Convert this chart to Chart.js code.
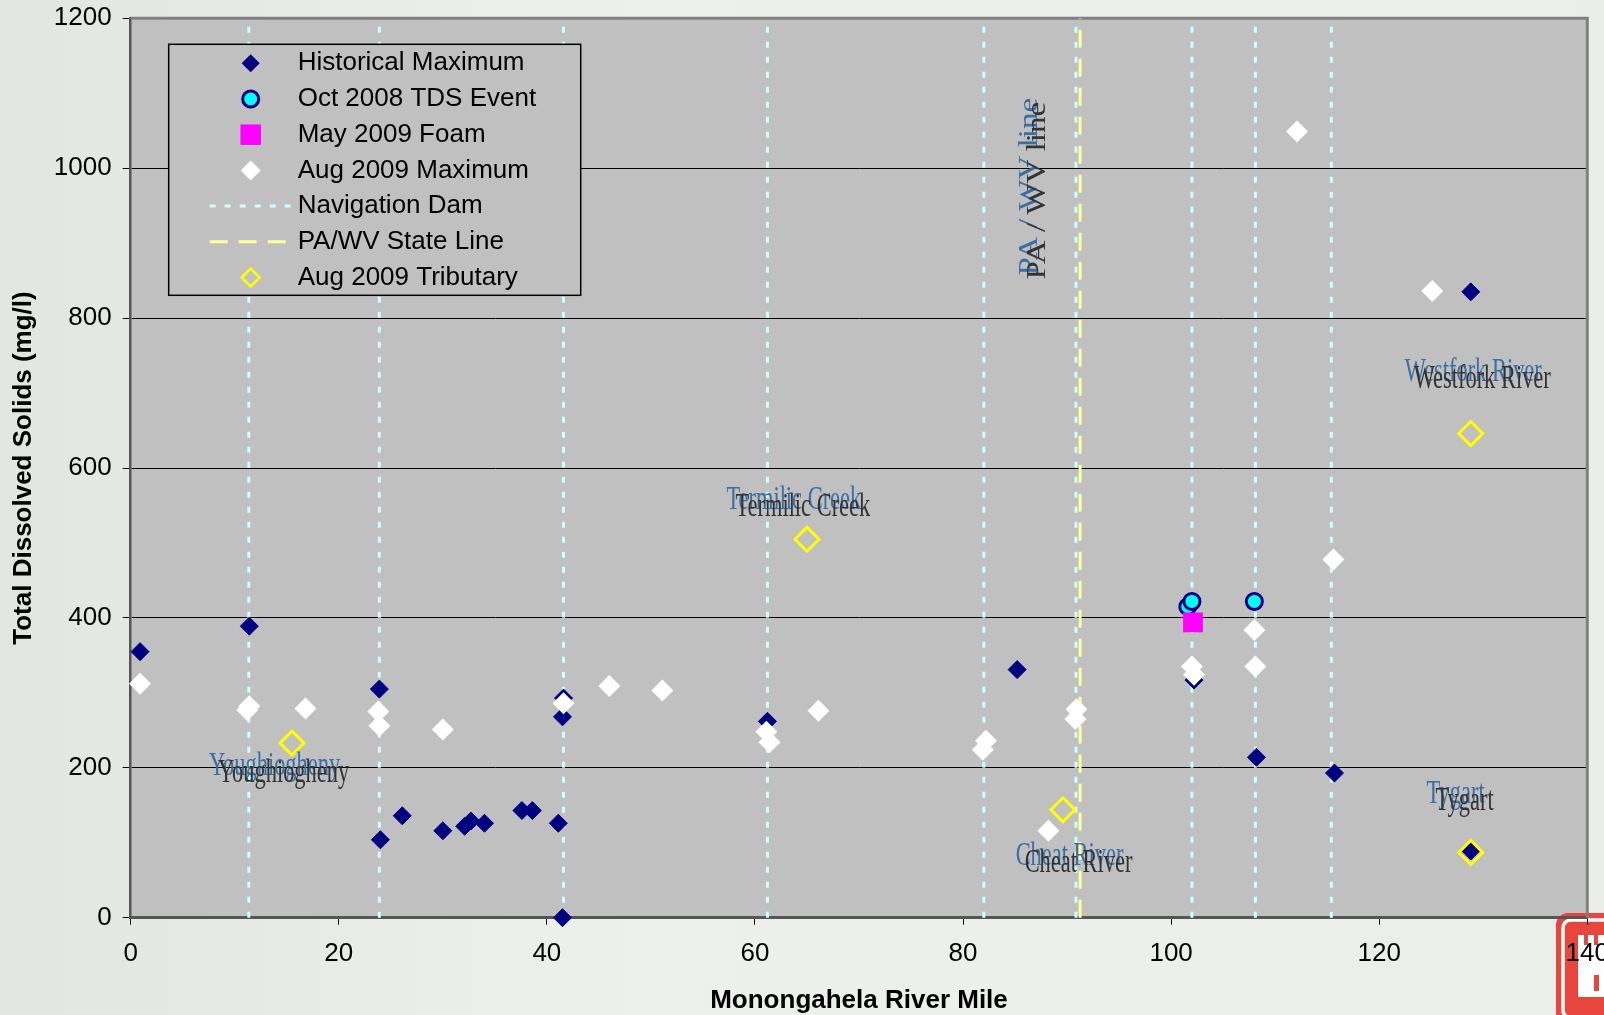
<!DOCTYPE html>
<html>
<head>
<meta charset="utf-8">
<title>Monongahela River TDS</title>
<script src="https://cdn.jsdelivr.net/npm/chart.js@4.4.0/dist/chart.umd.min.js"></script>
<style>
    html, body { margin: 0; padding: 0; background: #eceeec; }
    #wrap { width: 1604px; height: 1015px; }
</style>
</head>
<body>
<div id="wrap"><canvas id="tdsChart" width="1604" height="1015"></canvas></div>
<script>
// Axis ticks
const xTickValues = [0, 20, 40, 60, 80, 100, 120, 140];
const yTickValues = [0, 200, 400, 600, 800, 1000, 1200];

// Historical maximum TDS (river mile / mg/l)
const histMaxMile = [0.9, 11.4, 23.9, 24.0, 26.1, 30.0, 32.1, 32.7, 34.0, 37.6, 38.6, 41.1, 41.5, 41.6, 41.5, 61.2, 85.2, 102.2, 108.2, 115.7, 128.8, 128.8];
const histMaxTds  = [355, 389, 305, 104, 136, 116, 122, 129, 126, 143, 143, 126, 268, 293, 0, 262, 331, 317, 214, 193, 835, 89];

// Oct 2008 TDS event
const oct2008Mile = [101.6, 102.0, 108.0];
const oct2008Tds  = [415, 422, 422];

// May 2009 foam
const may2009Mile = [102.1];
const may2009Tds  = [394];

// Aug 2009 maximum
const aug2009Mile = [0.9, 11.2, 11.4, 16.8, 23.8, 23.9, 30.0, 41.6, 46.0, 51.1, 61.1, 61.4, 66.1, 81.9, 82.2, 88.2, 90.8, 90.9, 102.0, 102.2, 108.0, 108.1, 112.1, 115.6, 125.1];
const aug2009Tds  = [312, 277, 282, 279, 275, 256, 251, 286, 309, 303, 248, 234, 276, 224, 236, 116, 265, 278, 335, 324, 384, 335, 1049, 478, 836];

// Aug 2009 tributaries
const tribMile = [15.5, 65.0, 89.6, 128.8, 128.8];
const tribTds  = [233, 505, 144, 646, 87];

// Navigation dams and the state line (river mile)
const navDamMile = [11.35, 23.9, 41.6, 61.2, 82.0, 90.85, 102.0, 108.1, 115.4];
const stateLineMile = [91.25];

// Tributary names written on the plot
const tribNames   = ['Youghiogheny', 'Termilic Creek', 'Cheat River', 'Westfork River', 'Tygart'];
const tribNameMile = [14.7, 64.6, 91.1, 129.9, 128.2];
const tribNameTds  = [193, 548, 73, 718, 155];

const stateLineText = 'PA / WV line';
const stateTextMile = 87.25;
const stateTextTds = 970;

const yMin = yTickValues[0];
const yMax = yTickValues[yTickValues.length - 1];

function toPoints(xs, ys) {
    return xs.map((x, i) => ({ x: x, y: ys[i] }));
}

// vertical lines, broken by a null point between each mile
function verticalLines(miles) {
    const pts = [];
    miles.forEach(m => {
        pts.push({ x: m, y: yMin }, { x: m, y: yMax }, { x: m, y: null });
    });
    return pts;
}

const SANS = '"Liberation Sans", Arial, sans-serif';
const SERIF = '"Liberation Serif", "Times New Roman", serif';
Chart.defaults.font.family = SANS;
Chart.defaults.color = '#000';

function drawMarker(ctx, style, x, y, r, fill, stroke, lw) {
    ctx.beginPath();
    if (style === 'rectRot') {
        ctx.moveTo(x - r, y);
        ctx.lineTo(x, y - r);
        ctx.lineTo(x + r, y);
        ctx.lineTo(x, y + r);
        ctx.closePath();
    } else if (style === 'rect') {
        const h = r * Math.SQRT1_2;
        ctx.rect(x - h, y - h, 2 * h, 2 * h);
    } else {
        ctx.arc(x, y, r, 0, Math.PI * 2);
    }
    ctx.fillStyle = fill;
    ctx.fill();
    if (lw) {
        ctx.lineWidth = lw;
        ctx.strokeStyle = stroke;
        ctx.stroke();
    }
}

// red castle badge in the lower right corner of the slide
function drawBadge(ctx, w, h) {
    ctx.save();
    ctx.fillStyle = '#e8453c';
    ctx.beginPath();
    ctx.roundRect(w - 48, h - 102, 70, 112, 12);
    ctx.fill();
    ctx.strokeStyle = '#ffffff';
    ctx.lineWidth = 3.5;
    ctx.beginPath();
    ctx.roundRect(w - 41, h - 95, 56, 98, 8);
    ctx.stroke();
    ctx.fillStyle = '#ffffff';
    ctx.fillRect(w - 26, h - 70, 26, 52);
    ctx.fillRect(w - 26, h - 80, 6, 10);
    ctx.fillRect(w - 16, h - 80, 6, 10);
    ctx.fillRect(w - 6, h - 80, 6, 10);
    ctx.fillStyle = '#e8453c';
    ctx.fillRect(w - 10, h - 40, 5, 16);
    ctx.restore();
}

const slideBackground = {
    id: 'slideBackground',
    beforeDraw(chart) {
        const { ctx, width, height, chartArea: a } = chart;
        ctx.save();
        const g = ctx.createLinearGradient(0, 0, width, 0);
        g.addColorStop(0, '#e2e5e2');
        g.addColorStop(0.4, '#eef0ee');
        g.addColorStop(1, '#ebedeb');
        ctx.fillStyle = g;
        ctx.fillRect(0, 0, width, height);
        ctx.fillStyle = '#c0c0c0';
        ctx.fillRect(a.left, a.top, a.right - a.left, a.bottom - a.top);
        ctx.restore();
        drawBadge(ctx, width, height);
    },
    beforeDatasetsDraw(chart) {
        const { ctx, chartArea: a } = chart;
        ctx.save();
        ctx.strokeStyle = '#808080';
        ctx.lineWidth = 3;
        ctx.beginPath();
        ctx.moveTo(a.left, a.top);
        ctx.lineTo(a.right, a.top);
        ctx.lineTo(a.right, a.bottom);
        ctx.stroke();
        ctx.restore();
    }
};

function drawSquashed(ctx, text, px, py, color, vertical) {
    ctx.save();
    ctx.translate(px, py);
    if (vertical) {
        ctx.rotate(-Math.PI / 2);
        ctx.scale(1, 0.8);
    } else {
        ctx.scale(0.66, 1);
    }
    ctx.fillStyle = color;
    ctx.fillText(text, 0, 0);
    ctx.restore();
}

// tributary names and the state line note, blue copy offset behind a grey one
const riverLabels = {
    id: 'riverLabels',
    afterDatasetsDraw(chart) {
        const { ctx, scales: { x, y } } = chart;
        ctx.save();
        ctx.textAlign = 'center';
        ctx.textBaseline = 'middle';
        ctx.font = '34px ' + SERIF;
        tribNames.forEach((name, i) => {
            const px = x.getPixelForValue(tribNameMile[i]);
            const py = y.getPixelForValue(tribNameTds[i]);
            drawSquashed(ctx, name, px - 9, py - 7, '#3a6ea5', false);
            drawSquashed(ctx, name, px, py, '#333333', false);
        });
        ctx.font = '33px ' + SERIF;
        const sx = x.getPixelForValue(stateTextMile);
        const sy = y.getPixelForValue(stateTextTds);
        drawSquashed(ctx, stateLineText, sx - 8, sy - 4, '#3a6ea5', true);
        drawSquashed(ctx, stateLineText, sx, sy, '#333333', true);
        ctx.restore();
    }
};

// legend box sitting inside the plot area
const boxLegend = {
    id: 'boxLegend',
    afterDatasetsDraw(chart) {
        const { ctx, chartArea: a } = chart;
        const left = a.left + 38, top = a.top + 26;
        const w = 412, h = 251;
        ctx.save();
        ctx.fillStyle = '#c0c0c0';
        ctx.fillRect(left, top, w, h);
        ctx.strokeStyle = '#000';
        ctx.lineWidth = 1.5;
        ctx.strokeRect(left, top, w, h);
        ctx.font = '26px ' + SANS;
        ctx.textAlign = 'left';
        ctx.textBaseline = 'middle';
        chart.data.datasets.forEach((ds, i) => {
            const ry = top + 19 + i * 35.7;
            if (ds.showLine) {
                ctx.save();
                ctx.strokeStyle = ds.borderColor;
                ctx.lineWidth = ds.borderWidth;
                ctx.setLineDash(ds.borderDash || []);
                ctx.beginPath();
                ctx.moveTo(left + 41, ry);
                ctx.lineTo(left + ds.legendLineEnd, ry);
                ctx.stroke();
                ctx.restore();
            } else {
                drawMarker(ctx, ds.pointStyle, left + 82, ry, ds.legendRadius,
                    ds.backgroundColor, ds.borderColor, ds.legendBorder);
            }
            ctx.fillStyle = '#000';
            ctx.fillText(ds.label, left + 129, ry);
        });
        ctx.restore();
    }
};

const ctx = document.getElementById('tdsChart').getContext('2d');
new Chart(ctx, {
    type: 'scatter',
    data: {
        datasets: [
            {
                label: 'Historical Maximum',
                data: toPoints(histMaxMile, histMaxTds),
                pointStyle: 'rectRot',
                pointRadius: 9,
                backgroundColor: '#000080',
                borderColor: '#000080',
                borderWidth: 1,
                legendRadius: 9,
                legendBorder: 0,
                order: 5
            },
            {
                label: 'Oct 2008 TDS Event',
                data: toPoints(oct2008Mile, oct2008Tds),
                pointStyle: 'circle',
                pointRadius: 8,
                backgroundColor: '#00ffff',
                borderColor: '#000080',
                borderWidth: 3,
                legendRadius: 8,
                legendBorder: 3,
                order: 3
            },
            {
                label: 'May 2009 Foam',
                data: toPoints(may2009Mile, may2009Tds),
                pointStyle: 'rect',
                pointRadius: 14,
                backgroundColor: '#ff00ff',
                borderColor: '#ff00ff',
                borderWidth: 0,
                legendRadius: 14.5,
                legendBorder: 0,
                order: 2
            },
            {
                label: 'Aug 2009 Maximum',
                data: toPoints(aug2009Mile, aug2009Tds),
                pointStyle: 'rectRot',
                pointRadius: 11,
                backgroundColor: '#ffffff',
                borderColor: '#ffffff',
                borderWidth: 0,
                legendRadius: 10,
                legendBorder: 0,
                order: 4
            },
            {
                label: 'Navigation Dam',
                data: verticalLines(navDamMile),
                showLine: true,
                spanGaps: false,
                pointRadius: 0,
                borderColor: '#ccffff',
                borderWidth: 3,
                borderDash: [6, 9],
                legendLineEnd: 124,
                order: 8
            },
            {
                label: 'PA/WV State Line',
                data: verticalLines(stateLineMile),
                showLine: true,
                spanGaps: false,
                pointRadius: 0,
                borderColor: '#ffff99',
                borderWidth: 3,
                borderDash: [18, 11],
                legendLineEnd: 117,
                order: 7
            },
            {
                label: 'Aug 2009 Tributary',
                data: toPoints(tribMile, tribTds),
                pointStyle: 'rectRot',
                pointRadius: 12,
                backgroundColor: 'rgba(0,0,0,0)',
                borderColor: '#ffff00',
                borderWidth: 3,
                legendRadius: 9,
                legendBorder: 2.5,
                order: 1
            }
        ]
    },
    options: {
        responsive: false,
        animation: false,
        events: [],
        devicePixelRatio: 1,
        layout: {
            padding: { left: 0, top: 18.3, right: 16.7, bottom: 0 }
        },
        datasets: {
            scatter: { clip: false }
        },
        plugins: {
            legend: { display: false },
            tooltip: { enabled: false }
        },
        scales: {
            x: {
                type: 'linear',
                min: xTickValues[0],
                max: xTickValues[xTickValues.length - 1],
                afterBuildTicks: s => { s.ticks = xTickValues.map(v => ({ value: v })); },
                afterFit: s => { s.height = 97.3; s.paddingLeft = 0; s.paddingRight = 0; },
                grid: { drawOnChartArea: false, drawTicks: true, tickLength: 7, color: '#000', lineWidth: 1 },
                border: { color: '#555', width: 3 },
                ticks: { padding: 14, color: '#000', font: { size: 26 }, callback: v => String(v) },
                title: {
                    display: true,
                    text: 'Monongahela River Mile',
                    color: '#000',
                    padding: 0,
                    font: { size: 26, weight: 'bold', lineHeight: 1.1 }
                }
            },
            y: {
                type: 'linear',
                min: yMin,
                max: yMax,
                afterBuildTicks: s => { s.ticks = yTickValues.map(v => ({ value: v })); },
                afterFit: s => { s.width = 130.7; s.paddingTop = 0; s.paddingBottom = 0; },
                grid: { color: '#000', lineWidth: 1, tickLength: 8 },
                border: { color: '#555', width: 2.5 },
                ticks: { padding: 11, color: '#000', font: { size: 26 }, callback: v => String(v) },
                title: {
                    display: true,
                    text: 'Total Dissolved Solids (mg/l)',
                    color: '#000',
                    padding: { top: 10, bottom: 0 },
                    font: { size: 26, weight: 'bold', lineHeight: 1.1 }
                }
            }
        }
    },
    plugins: [slideBackground, riverLabels, boxLegend]
});
</script>
</body>
</html>
